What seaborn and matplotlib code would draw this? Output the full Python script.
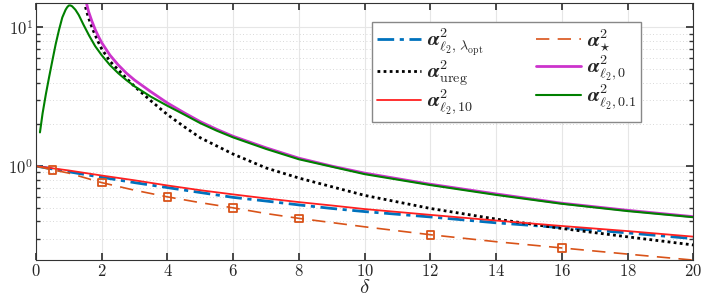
import numpy as np
import pandas as pd
import matplotlib
matplotlib.use("Agg")
import matplotlib.pyplot as plt
import matplotlib.ticker as mticker
import seaborn as sns

# values (delta, alpha^2)
delta_opt = [0, 1, 2, 3, 4, 5, 6, 7, 8, 9, 10, 12, 14, 16, 18, 20]
alpha_opt = [1.0, 0.91, 0.83, 0.76, 0.70, 0.645, 0.595, 0.56, 0.525, 0.495,
             0.47, 0.43, 0.39, 0.36, 0.33, 0.30]

delta_star = [0, 0.5, 1, 2, 3, 4, 5, 6, 7, 8, 10, 12, 14, 16, 18, 20]
alpha_star = [1.0, 0.94, 0.89, 0.76, 0.67, 0.60, 0.545, 0.50, 0.455, 0.42,
              0.365, 0.32, 0.285, 0.257, 0.232, 0.21]
delta_star_mk = [0.5, 2, 4, 6, 8, 12, 16]
alpha_star_mk = [0.94, 0.76, 0.60, 0.50, 0.42, 0.32, 0.257]

delta_ureg = [1.46, 1.55, 1.65, 1.75, 1.9, 2.0, 2.25, 2.5, 2.75, 3.0, 3.5,
              4.0, 4.5, 5.0, 6.0, 7.0, 8.0, 9.0, 10.0, 12.0, 14.0, 16.0,
              18.0, 20.0]
alpha_ureg = [15.5, 12.8, 10.8, 9.4, 7.8, 7.0, 5.7, 4.95, 4.3, 3.75, 2.95,
              2.35, 1.93, 1.6, 1.22, 0.97, 0.82, 0.71, 0.615, 0.495, 0.415,
              0.355, 0.309, 0.27]

delta_l0 = [1.52, 1.6, 1.7, 1.8, 1.9, 2.0, 2.25, 2.5, 2.75, 3.0, 3.5, 4.0,
            4.5, 5.0, 5.5, 6.0, 7.0, 8.0, 9.0, 10.0, 12.0, 14.0, 16.0, 18.0,
            20.0]
alpha_l0 = [15.5, 13.0, 11.1, 9.66, 8.61, 7.76, 6.31, 5.37, 4.68, 4.17, 3.43,
            2.85, 2.43, 2.09, 1.84, 1.64, 1.355, 1.14, 1.0, 0.89, 0.74, 0.63,
            0.54, 0.48, 0.432]

delta_l10 = [0, 1, 2, 3, 4, 5, 6, 7, 8, 9, 10, 12, 14, 16, 18, 20]
alpha_l10 = [1.0, 0.93, 0.855, 0.79, 0.725, 0.67, 0.625, 0.585, 0.55, 0.52,
             0.49, 0.445, 0.405, 0.37, 0.34, 0.31]

delta_l01 = [0.12, 0.2, 0.3, 0.4, 0.5, 0.6, 0.7, 0.8, 0.9, 0.95, 1.0, 1.05,
             1.1, 1.2, 1.3, 1.45, 1.62, 1.8, 2.0, 2.25, 2.5, 2.75, 3.0, 3.5,
             4.0, 4.5, 5.0, 5.5, 6.0, 7.0, 8.0, 10.0, 12.0, 14.0, 16.0, 18.0,
             20.0]
alpha_l01 = [1.75, 2.4, 3.3, 4.4, 5.8, 7.6, 9.6, 11.8, 13.4, 14.0, 14.4, 14.4,
             14.2, 13.4, 12.3, 10.4, 8.7, 7.33, 6.3, 5.35, 4.68, 4.17, 3.76,
             3.16, 2.72, 2.36, 2.04, 1.80, 1.61, 1.33, 1.12, 0.875, 0.73, 0.62,
             0.535, 0.474, 0.428]

sns.set_theme(style="ticks")
plt.rcParams["font.family"] = ["cmr10", "DejaVu Serif"]
plt.rcParams["mathtext.fontset"] = "cm"
plt.rcParams["axes.formatter.use_mathtext"] = True

fig = plt.figure(figsize=(7.06, 3.0), dpi=100)
ax = fig.add_axes([0.051, 0.133, 0.931, 0.857])

sns.lineplot(x=delta_opt, y=alpha_opt, ax=ax, color="#0072BD", lw=2,
             linestyle=(0, (6, 2, 1.5, 2)),
             label=r"$\boldsymbol{\alpha}^2_{\ell_2,\,\lambda_{\rm opt}}$")
sns.lineplot(x=delta_ureg, y=alpha_ureg, ax=ax, color="black", lw=2,
             linestyle=(0, (1, 1.2)), label=r"$\boldsymbol{\alpha}^2_{\rm ureg}$")
sns.lineplot(x=delta_l10, y=alpha_l10, ax=ax, color="#FF2020", lw=1.3,
             label=r"$\boldsymbol{\alpha}^2_{\ell_2,10}$")
sns.lineplot(x=delta_star, y=alpha_star, ax=ax, color="#D95319", lw=1.2,
             linestyle=(0, (8, 5)), label=r"$\boldsymbol{\alpha}^2_{\star}$")
sns.lineplot(x=delta_l0, y=alpha_l0, ax=ax, color="#CC33CC", lw=2,
             label=r"$\boldsymbol{\alpha}^2_{\ell_2,0}$")
sns.lineplot(x=delta_l01, y=alpha_l01, ax=ax, color="#008000", lw=1.5,
             label=r"$\boldsymbol{\alpha}^2_{\ell_2,0.1}$")
sns.scatterplot(x=delta_star_mk, y=alpha_star_mk, ax=ax, marker="s", s=30,
                facecolor="none", edgecolor="#D95319", linewidth=1.3, zorder=5)

ax.set_yscale("log")
ax.set_xlim(0, 20)
ax.set_ylim(0.21, 15)
ax.set_xticks(range(0, 21, 2))
ax.yaxis.set_minor_formatter(mticker.NullFormatter())
ax.grid(True, which="major", color="#e6e6e6", lw=0.8)
ax.grid(True, which="minor", axis="y", color="#cccccc", lw=0.6, linestyle=(0, (1, 3)))
ax.tick_params(which="both", direction="in", top=True, right=True, labelsize=12,
               color="#333333", pad=2)
ax.tick_params(which="major", length=5)
ax.tick_params(which="minor", length=3)
for s in ax.spines.values():
    s.set_color("#333333")
    s.set_linewidth(0.8)
ax.set_xlabel(r"$\delta$", fontsize=15, labelpad=0)
ax.set_ylabel("")

ax.legend(ncol=2, loc="upper left", bbox_to_anchor=(0.511, 0.927), fontsize=14.5,
          fancybox=False, edgecolor="#888888", framealpha=1, handlelength=2.2,
          columnspacing=2.6, labelspacing=0.0, borderpad=0.25, handletextpad=0.3,
          borderaxespad=0)

fig.savefig("out.png", dpi=100)
